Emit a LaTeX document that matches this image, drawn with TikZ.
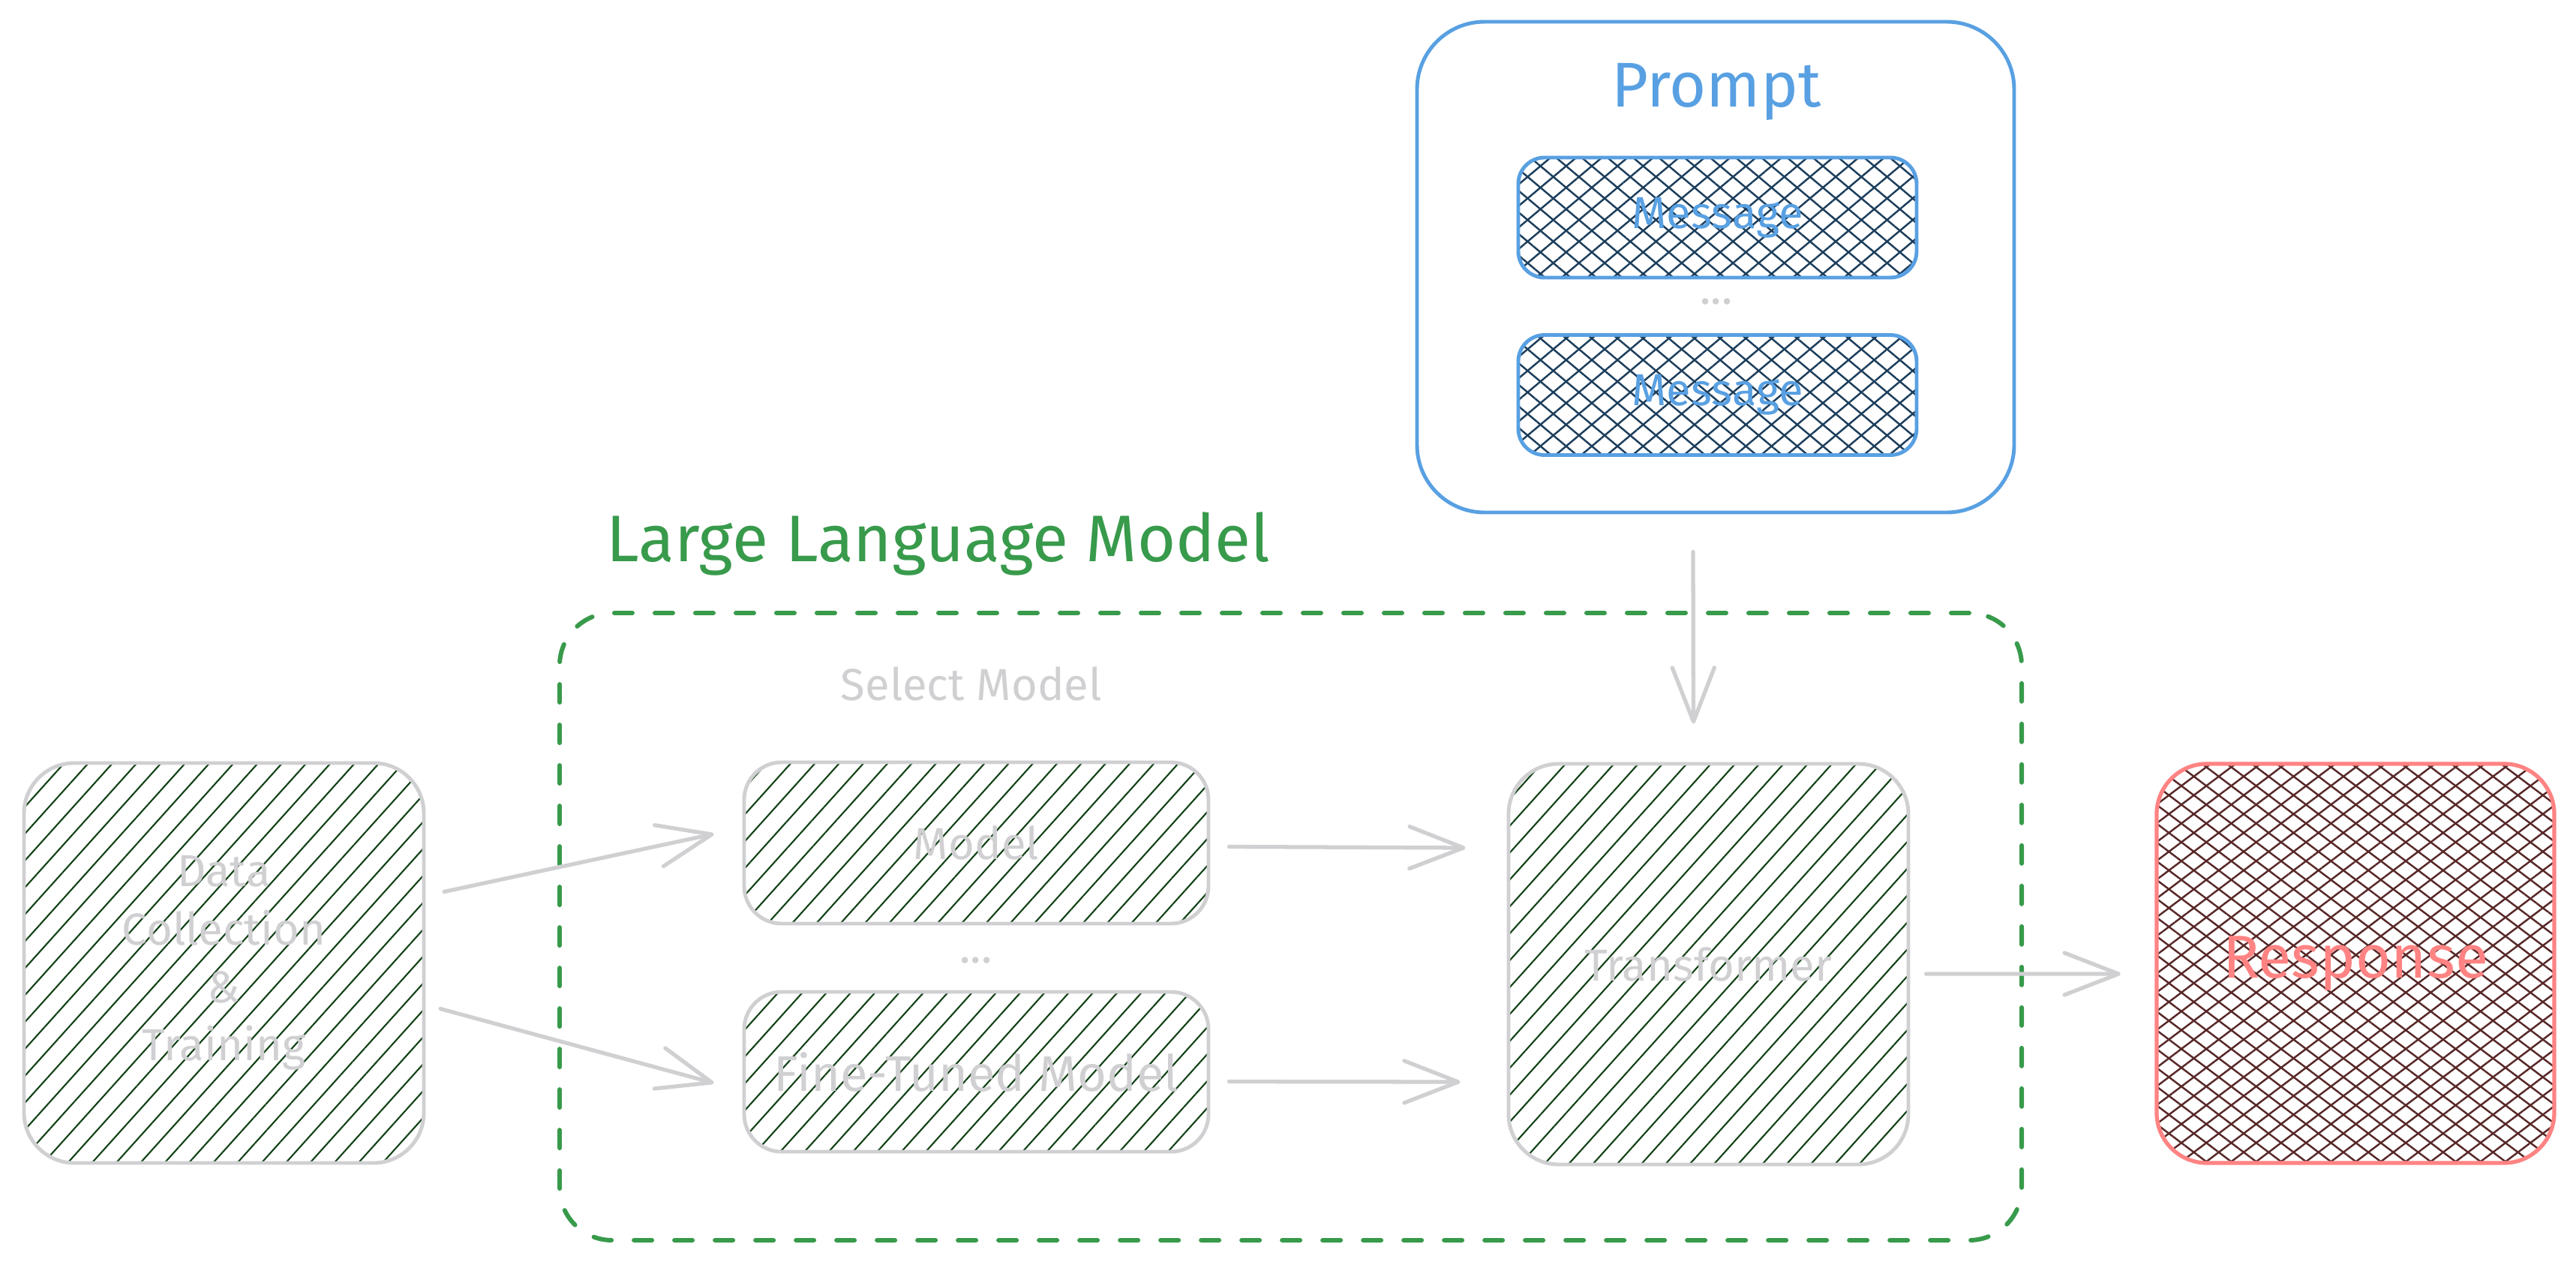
\documentclass[tikz,border=0pt]{standalone}
\usepackage{fontspec}
\setmainfont{Fira Sans}
\usepackage{tikz}
\usetikzlibrary{positioning,calc,patterns.meta,arrows.meta}

\definecolor{boxgray}{RGB}{208,207,210}
\definecolor{hatchgreen}{RGB}{18,66,22}
\definecolor{promptblue}{RGB}{88,160,226}
\definecolor{hatchnavy}{RGB}{28,62,92}
\definecolor{respred}{RGB}{255,131,131}
\definecolor{hatchbrown}{RGB}{88,40,40}
\definecolor{llmgreen}{RGB}{56,154,75}

\tikzset{
    greenbox/.style={draw=boxgray, line width=1.4pt, inner sep=0pt, text=boxgray,
        pattern={Lines[angle=48,distance=2.4mm,line width=0.6pt]}, pattern color=hatchgreen,
        font=\fontsize{17}{22}\selectfont, align=center},
    msgbox/.style={draw=promptblue, line width=1.4pt, inner sep=0pt, text=promptblue,
        rounded corners=0.35cm, minimum width=5.31cm, minimum height=1.6cm,
        preaction={pattern={Lines[angle=40,distance=2.2mm,line width=0.7pt]}, pattern color=hatchnavy},
        pattern={Lines[angle=-40,distance=2.2mm,line width=0.7pt]}, pattern color=hatchnavy,
        font=\fontsize{17}{22}\selectfont},
    conn/.style={draw=boxgray, line width=1.5pt, line cap=round,
        -{Straight Barb[length=0.72cm,width=0.56cm,round]}},
    dots/.style={text=boxgray, font=\fontsize{17}{22}\selectfont}
}

\begin{document}
\begin{tikzpicture}
    \useasboundingbox (0,0) rectangle (34.34,-16.86);

    \node [draw=llmgreen, line width=1.7pt, dash pattern=on 0.24cm off 0.3cm, line cap=round,
           rounded corners=0.7cm, minimum width=19.49cm, minimum height=8.36cm]
           at (17.205,-12.35) (llm) {};
    \node [anchor=base west, text=llmgreen, font=\fontsize{25}{30}\selectfont]
           at (7.96,-7.48) (llmlabel) {Large Language Model};
    \node [anchor=base, text=boxgray, font=\fontsize{17}{22}\selectfont]
           at (12.95,-9.33) (select) {Select Model};

    \node [greenbox, rounded corners=0.67cm, minimum width=5.33cm, minimum height=5.33cm]
           at (2.985,-12.835) (data) {Data\\Collection\\\&\\Training};
    \node [greenbox, rounded corners=0.5cm, minimum width=6.19cm, minimum height=2.15cm]
           at (13.015,-11.235) (model) {Model};
    \node [dots] at (13.01,-12.80) (mdots) {...};
    \node [greenbox, rounded corners=0.5cm, minimum width=6.19cm, minimum height=2.13cm,
           font=\fontsize{19}{22}\selectfont]
           at (13.015,-14.285) (ft) {Fine-Tuned Model};
    \node [greenbox, rounded corners=0.67cm, minimum width=5.33cm, minimum height=5.34cm]
           at (22.775,-12.85) (tr) {Transformer};

    \node [draw=respred, line width=1.5pt, inner sep=0pt, text=respred,
           rounded corners=0.67cm, minimum width=5.30cm, minimum height=5.32cm,
           preaction={pattern={Lines[angle=37,distance=2mm,line width=0.7pt]}, pattern color=hatchbrown},
           pattern={Lines[angle=-37,distance=2mm,line width=0.7pt]}, pattern color=hatchbrown,
           font=\fontsize{23}{28}\selectfont]
           at (31.40,-12.84) (resp) {Response};

    \node [draw=promptblue, line width=1.4pt, fill=white, rounded corners=0.9cm,
           minimum width=7.96cm, minimum height=6.54cm]
           at (22.87,-3.56) (prompt) {};
    \node [anchor=base, text=promptblue, font=\fontsize{24}{29}\selectfont]
           at (22.88,-1.43) (promptlabel) {Prompt};
    \node [msgbox] at (22.895,-2.90) (msg1) {Message};
    \node [dots] at (22.88,-4.02) (pdots) {...};
    \node [msgbox] at (22.895,-5.265) (msg2) {Message};

    \draw [conn] ($(data.east)+(0.26,0.95)$) -- ($(model.west)+(-0.38,0.12)$);
    \draw [conn] ($(data.east)+(0.21,-0.61)$) -- ($(ft.west)+(-0.38,-0.15)$);
    \draw [conn] ($(model.east)+(0.25,-0.05)$) -- ($(tr.west)+(-0.55,1.55)$);
    \draw [conn] ($(ft.east)+(0.25,-0.13)$) -- ($(tr.west)+(-0.62,-1.57)$);
    \draw [conn] ($(tr.east)+(0.21,-0.13)$) -- ($(resp.west)+(-0.47,-0.14)$);
    \draw [conn] ($(prompt.south)+(-0.30,-0.50)$) -- ($(tr.north)+(-0.20,0.51)$);
\end{tikzpicture}
\end{document}
